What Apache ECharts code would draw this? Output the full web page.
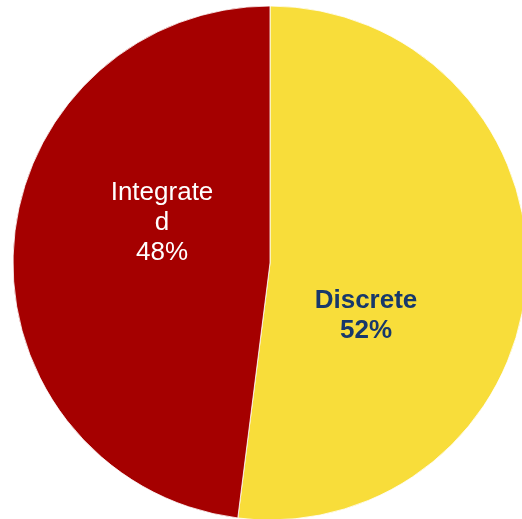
<!DOCTYPE html>
<html>
<head>
<meta charset="utf-8">
<style>
  html, body { margin: 0; padding: 0; background: #ffffff; }
  #chart { width: 522px; height: 519px; }
</style>
<script src="https://cdn.jsdelivr.net/npm/echarts@6/dist/echarts.min.js"></script>
</head>
<body>
<div id="chart"></div>
<script>
// Share of modules by type (percent)
const categories = ['Discrete', 'Integrated'];
const shares = [52, 48];
// Category text as it wraps inside each slice
const sliceTitles = ['Discrete', 'Integrate\nd'];

const sliceColors = ['#F8DD3A', '#A50000'];
const labelColors = ['#17386B', '#FFFFFF'];
const labelWeights = ['bold', 'normal'];
// Label block centres inside the slices
const labelSpots = [[366, 316], [162, 223]];

const chart = echarts.init(document.getElementById('chart'), null, { renderer: 'canvas' });

chart.setOption({
  animation: false,
  backgroundColor: '#ffffff',
  series: [{
    type: 'pie',
    center: [270, 263],
    radius: 257,
    startAngle: 90,
    clockwise: true,
    avoidLabelOverlap: false,
    itemStyle: { borderColor: '#ffffff', borderWidth: 0.8 },
    emphasis: { disabled: true },
    label: {
      show: true,
      position: 'inside',
      fontFamily: '"Liberation Sans", Arial, sans-serif',
      fontSize: 26,
      lineHeight: 30,
      align: 'center',
      verticalAlign: 'middle',
      formatter: p => sliceTitles[p.dataIndex] + '\n' + Math.round(p.percent) + '%'
    },
    labelLine: { show: false },
    labelLayout: p => ({
      x: labelSpots[p.dataIndex][0],
      y: labelSpots[p.dataIndex][1],
      align: 'center',
      verticalAlign: 'middle'
    }),
    data: categories.map((name, i) => ({
      name: name,
      value: shares[i],
      itemStyle: { color: sliceColors[i] },
      label: { color: labelColors[i], fontWeight: labelWeights[i] }
    }))
  }]
});
</script>
</body>
</html>
